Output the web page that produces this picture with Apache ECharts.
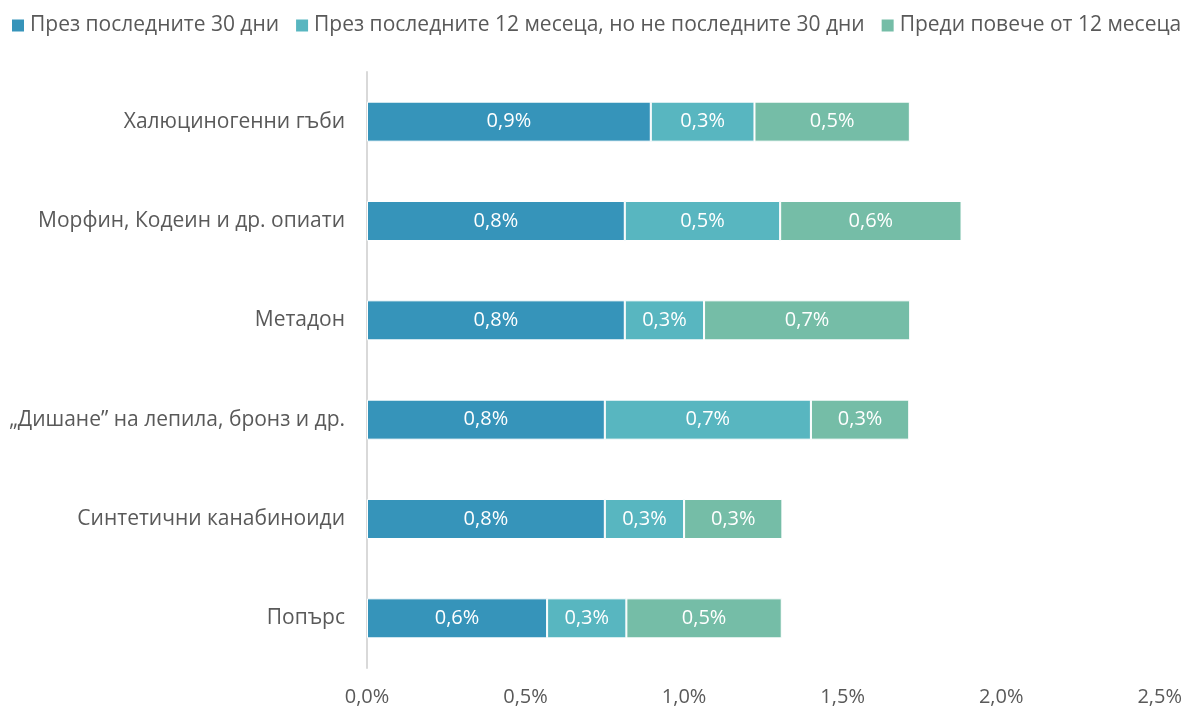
<!DOCTYPE html>
<html>
<head>
<meta charset="utf-8">
<script src="https://cdn.jsdelivr.net/npm/echarts@6/dist/echarts.min.js"></script>
<style>
html, body { margin: 0; padding: 0; background: #fff; }
#chart { width: 1185px; height: 708px; }
</style>
</head>
<body>
<div id="chart"></div>
<script>
var categories = ['Халюциногенни гъби', 'Морфин, Кодеин и др. опиати', 'Метадон',
    '„Дишане” на лепила, бронз и др.', 'Синтетични канабиноиди', 'Попърс'];
var seriesNames = ['През последните 30 дни', 'През последните 12 месеца, но не последните 30 дни', 'Преди повече от 12 месеца'];
var last30 = [0.895, 0.813, 0.813, 0.75, 0.75, 0.568];
var last12 = [0.327, 0.49, 0.25, 0.65, 0.25, 0.25];
var older = [0.49, 0.572, 0.65, 0.31, 0.31, 0.49];
var xTicks = [0, 0.5, 1, 1.5, 2, 2.5];

var font = '"Open Sans", sans-serif';
var colors = ['#3694BA', '#58B6C0', '#75BDA7'];

function pct(v) {
    return v.toFixed(1).replace('.', ',') + '%';
}

var chart = echarts.init(document.getElementById('chart'));

function makeSeries(name, data, i) {
    return {
        name: name,
        type: 'bar',
        stack: 'total',
        barWidth: 40,
        data: data,
        itemStyle: { color: colors[i], borderColor: '#fff', borderWidth: 1 },
        label: {
            show: true,
            position: 'inside',
            color: '#fff',
            fontFamily: font,
            fontSize: 20,
            formatter: function(p) { return pct(p.value); }
        }
    };
}

var option = {
    animation: false,
    color: colors,
    textStyle: { fontFamily: font },
    legend: {
        top: 15,
        left: 10,
        width: 1500,
        padding: 0,
        itemWidth: 14,
        itemHeight: 14,
        itemGap: 15,
        icon: 'rect',
        textStyle: { fontFamily: font, fontSize: 21, color: '#595959' },
        data: seriesNames
    },
    grid: { left: 367, right: 22, top: 72, bottom: 40 },
    xAxis: {
        type: 'value',
        min: xTicks[0],
        max: xTicks[xTicks.length - 1],
        interval: 0.5,
        splitLine: { show: false },
        axisLine: { show: false },
        axisTick: { show: false },
        axisLabel: {
            fontFamily: font,
            fontSize: 20,
            color: '#595959',
            margin: 19,
            formatter: function(v) { return pct(v); }
        }
    },
    yAxis: {
        type: 'category',
        inverse: true,
        data: categories,
        axisLine: { show: true, lineStyle: { color: '#d9d9d9', width: 2 } },
        axisTick: { show: false },
        axisLabel: { fontFamily: font, fontSize: 21, color: '#595959', margin: 22 }
    },
    series: [
        makeSeries(seriesNames[0], last30, 0),
        makeSeries(seriesNames[1], last12, 1),
        makeSeries(seriesNames[2], older, 2)
    ]
};
chart.setOption(option);
</script>
</body>
</html>
